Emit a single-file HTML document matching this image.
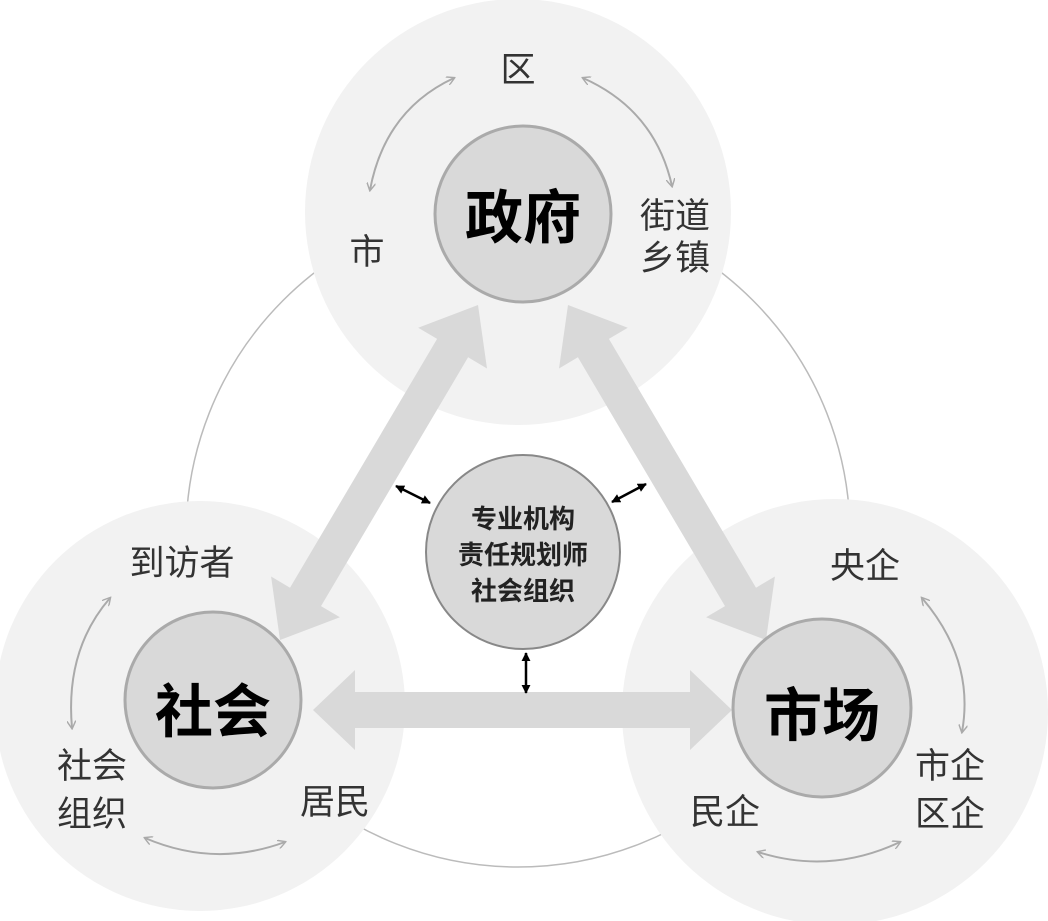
<!DOCTYPE html>
<html><head><meta charset="utf-8"><style>
html,body{margin:0;padding:0;background:#fff;}
svg{display:block;}
text{font-family:"Liberation Sans","Noto Sans CJK SC",sans-serif;fill:#333;}
</style></head><body>
<svg width="1048" height="921" viewBox="0 0 1048 921" xmlns="http://www.w3.org/2000/svg">
<defs>
<marker id="g" viewBox="0 0 10 10" refX="8" refY="5" markerWidth="9" markerHeight="9" orient="auto-start-reverse" markerUnits="userSpaceOnUse"><path d="M0,0 L9,5 L0,10" fill="none" stroke="#aaa" stroke-width="1.6"/></marker>
<marker id="k" viewBox="0 0 10 10" refX="9" refY="5" markerWidth="9" markerHeight="9" orient="auto-start-reverse" markerUnits="userSpaceOnUse"><path d="M0,0 L10,5 L0,10 Z" fill="#000"/></marker>
</defs>
<circle cx="518" cy="535" r="332" fill="none" stroke="#bbb" stroke-width="1.5"/>
<circle cx="518" cy="212" r="213" fill="#f2f2f2"/>
<circle cx="200" cy="706" r="205" fill="#f2f2f2"/>
<circle cx="835" cy="712" r="213" fill="#f2f2f2"/>
<g fill="#d9d9d9">
<polygon points="478,305 487,368.5 468.1,357.3 321,606.1 339.9,617.3 280,640 271.1,576.5 290,587.7 437.1,338.9 418.2,327.7"/>
<polygon points="568,305 559,368.5 577.9,357.3 725,606.1 706.1,617.3 766,640 774.9,576.5 756,587.7 608.9,338.9 627.8,327.7"/>
<polygon points="313,710 355,670 355,692 690,692 690,670 732,710 690,750 690,728 355,728 355,750"/>
</g>
<circle cx="523" cy="214" r="88" fill="#d9d9d9" stroke="#aaa" stroke-width="3"/>
<circle cx="213" cy="700" r="88" fill="#d9d9d9" stroke="#aaa" stroke-width="3"/>
<circle cx="822" cy="708" r="89" fill="#d9d9d9" stroke="#aaa" stroke-width="3"/>
<circle cx="523" cy="552" r="97" fill="#d9d9d9" stroke="#888" stroke-width="2"/>
<g fill="none" stroke="#aaa" stroke-width="2">
<path d="M454,78 Q385,110 370,190" marker-start="url(#g)" marker-end="url(#g)"/>
<path d="M583,78 Q655,110 672,186" marker-start="url(#g)" marker-end="url(#g)"/>
<path d="M110,598 Q65,650 72,728" marker-start="url(#g)" marker-end="url(#g)"/>
<path d="M145,838 Q215,868 285,842" marker-start="url(#g)" marker-end="url(#g)"/>
<path d="M922,598 Q975,660 962,732" marker-start="url(#g)" marker-end="url(#g)"/>
<path d="M758,852 Q830,875 900,842" marker-start="url(#g)" marker-end="url(#g)"/>
</g>
<g stroke="#000" stroke-width="2.5">
<line x1="396" y1="486" x2="430" y2="503" marker-start="url(#k)" marker-end="url(#k)"/>
<line x1="612" y1="502" x2="646" y2="484" marker-start="url(#k)" marker-end="url(#k)"/>
<line x1="526" y1="653" x2="526" y2="693" marker-start="url(#k)" marker-end="url(#k)"/>
</g>
<g font-weight="bold" font-size="58" text-anchor="middle">
<text x="523" y="238" style="fill:#000">政府</text>
<text x="213" y="732" style="fill:#000">社会</text>
<text x="822" y="736" style="fill:#000">市场</text>
</g>
<g font-size="26" font-weight="bold" text-anchor="middle">
<text x="523" y="528" style="fill:#222">专业机构</text>
<text x="523" y="564" style="fill:#222">责任规划师</text>
<text x="523" y="600" style="fill:#222">社会组织</text>
</g>
<g font-size="35" text-anchor="middle">
<text x="518" y="82">区</text>
<text x="367" y="264">市</text>
<text x="675" y="228">街道</text>
<text x="675" y="270">乡镇</text>
<text x="182" y="575">到访者</text>
<text x="92" y="778">社会</text>
<text x="92" y="826">组织</text>
<text x="335" y="814">居民</text>
<text x="865" y="578">央企</text>
<text x="950" y="778">市企</text>
<text x="950" y="826">区企</text>
<text x="725" y="824">民企</text>
</g>
</svg>
</body></html>
